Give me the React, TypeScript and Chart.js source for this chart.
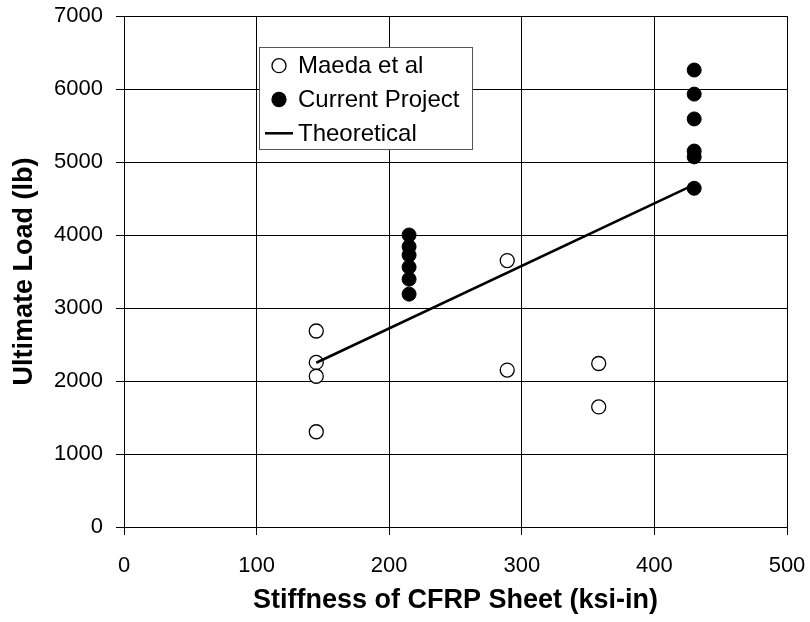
import { useEffect, useRef } from "react";
import { Chart, registerables } from "chart.js";

Chart.register(...registerables);

// Data
const maedaX = [145, 145, 145, 145, 289, 289, 358, 358];
const maedaY = [2685, 2255, 2065, 1305, 3650, 2150, 2240, 1645];
const currentX = [215, 215, 215, 215, 215, 215, 430, 430, 430, 430, 430, 430];
const currentY = [4000, 3840, 3725, 3560, 3395, 3190, 6260, 5930, 5590, 5150, 5070, 4640];
const theoryX = [145, 430];
const theoryY = [2250, 4690];
const seriesLabels = ["Maeda et al", "Current Project", "Theoretical"];
const xTickValues = [0, 100, 200, 300, 400, 500];
const yTickValues = [0, 1000, 2000, 3000, 4000, 5000, 6000, 7000];
const xTitle = "Stiffness of CFRP Sheet (ksi-in)";
const yTitle = "Ultimate Load (lb)";

const FONT = '"Liberation Sans", Arial, sans-serif';

const toPoints = (xs: number[], ys: number[]) => xs.map((x, i) => ({ x, y: ys[i] }));

const boxLegend = {
  id: "boxLegend",
  afterDraw(chart: any) {
    const ctx = chart.ctx as CanvasRenderingContext2D;
    const left = 259.5, top = 47.5, w = 213, h = 102;
    ctx.save();
    ctx.fillStyle = "#ffffff";
    ctx.fillRect(left, top, w, h);
    ctx.strokeStyle = "#555555";
    ctx.lineWidth = 1;
    ctx.strokeRect(left, top, w, h);
    ctx.font = `24px ${FONT}`;
    ctx.textBaseline = "middle";
    ctx.textAlign = "left";
    chart.data.datasets.forEach((ds: any, i: number) => {
      const cy = 65.7 + i * 33.8;
      if (ds.showLine) {
        ctx.strokeStyle = "#000";
        ctx.lineWidth = 2.5;
        ctx.beginPath();
        ctx.moveTo(265, cy);
        ctx.lineTo(293, cy);
        ctx.stroke();
      } else {
        ctx.beginPath();
        ctx.arc(279, cy, 7, 0, Math.PI * 2);
        ctx.fillStyle = ds.backgroundColor;
        ctx.fill();
        ctx.strokeStyle = "#000";
        ctx.lineWidth = 1.3;
        ctx.stroke();
      }
      ctx.fillStyle = "#000";
      ctx.fillText(ds.label, 298, cy + 1);
    });
    ctx.restore();
  },
};

export default function App() {
  const ref = useRef<HTMLCanvasElement | null>(null);
  useEffect(() => {
    if (!ref.current) return;
    const chart = new Chart(ref.current, {
      type: "scatter",
      data: {
        datasets: [
          {
            label: seriesLabels[0],
            data: toPoints(maedaX, maedaY),
            backgroundColor: "#ffffff",
            borderColor: "#000000",
            borderWidth: 1.3,
            pointRadius: 7,
            order: 2,
          },
          {
            label: seriesLabels[1],
            data: toPoints(currentX, currentY),
            backgroundColor: "#000000",
            borderColor: "#000000",
            borderWidth: 1,
            pointRadius: 7,
            order: 1,
          },
          {
            label: seriesLabels[2],
            data: toPoints(theoryX, theoryY),
            showLine: true,
            borderColor: "#000000",
            backgroundColor: "#000000",
            borderWidth: 2.5,
            pointRadius: 0,
            order: 0,
          } as any,
        ],
      },
      options: {
        animation: false,
        responsive: false,
        devicePixelRatio: 1,
        layout: { padding: { left: 0, top: 16, right: 23, bottom: 0 } },
        plugins: { legend: { display: false }, tooltip: { enabled: false } },
        scales: {
          x: {
            type: "linear",
            min: 0,
            max: 500,
            afterBuildTicks: (scale: any) => {
              scale.ticks = xTickValues.map((v) => ({ value: v }));
            },
            afterFit: (scale: any) => {
              scale.height = 95;
              scale.paddingLeft = 0;
              scale.paddingRight = 0;
            },
            grid: { color: "#000", lineWidth: 1, tickLength: 8, tickColor: "#000" },
            border: { color: "#000", width: 1 },
            ticks: {
              color: "#000",
              font: { family: FONT, size: 22 },
              padding: 18,
              maxRotation: 0,
              callback: (v: any) => String(v),
            },
            title: {
              display: true,
              text: xTitle,
              color: "#000",
              font: { family: FONT, size: 27, weight: "bold" },
              padding: { top: 0, bottom: 5 },
            },
          },
          y: {
            type: "linear",
            min: 0,
            max: 7000,
            afterBuildTicks: (scale: any) => {
              scale.ticks = yTickValues.map((v) => ({ value: v }));
            },
            afterFit: (scale: any) => {
              scale.width = 124;
              scale.paddingTop = 0;
              scale.paddingBottom = 0;
            },
            grid: { color: "#000", lineWidth: 1, tickLength: 8, tickColor: "#000" },
            border: { color: "#000", width: 1 },
            ticks: {
              color: "#000",
              font: { family: FONT, size: 22 },
              padding: 13,
              callback: (v: any) => String(v),
            },
            title: {
              display: true,
              text: yTitle,
              color: "#000",
              font: { family: FONT, size: 27, weight: "bold" },
              padding: { top: 8, bottom: 0 },
            },
          },
        },
      },
      plugins: [boxLegend],
    });
    return () => chart.destroy();
  }, []);
  return (
    <div style={{ position: "absolute", left: 0, top: 0, width: 810, height: 622, background: "#fff" }}>
      <canvas ref={ref} width={810} height={622} style={{ display: "block" }} />
    </div>
  );
}
